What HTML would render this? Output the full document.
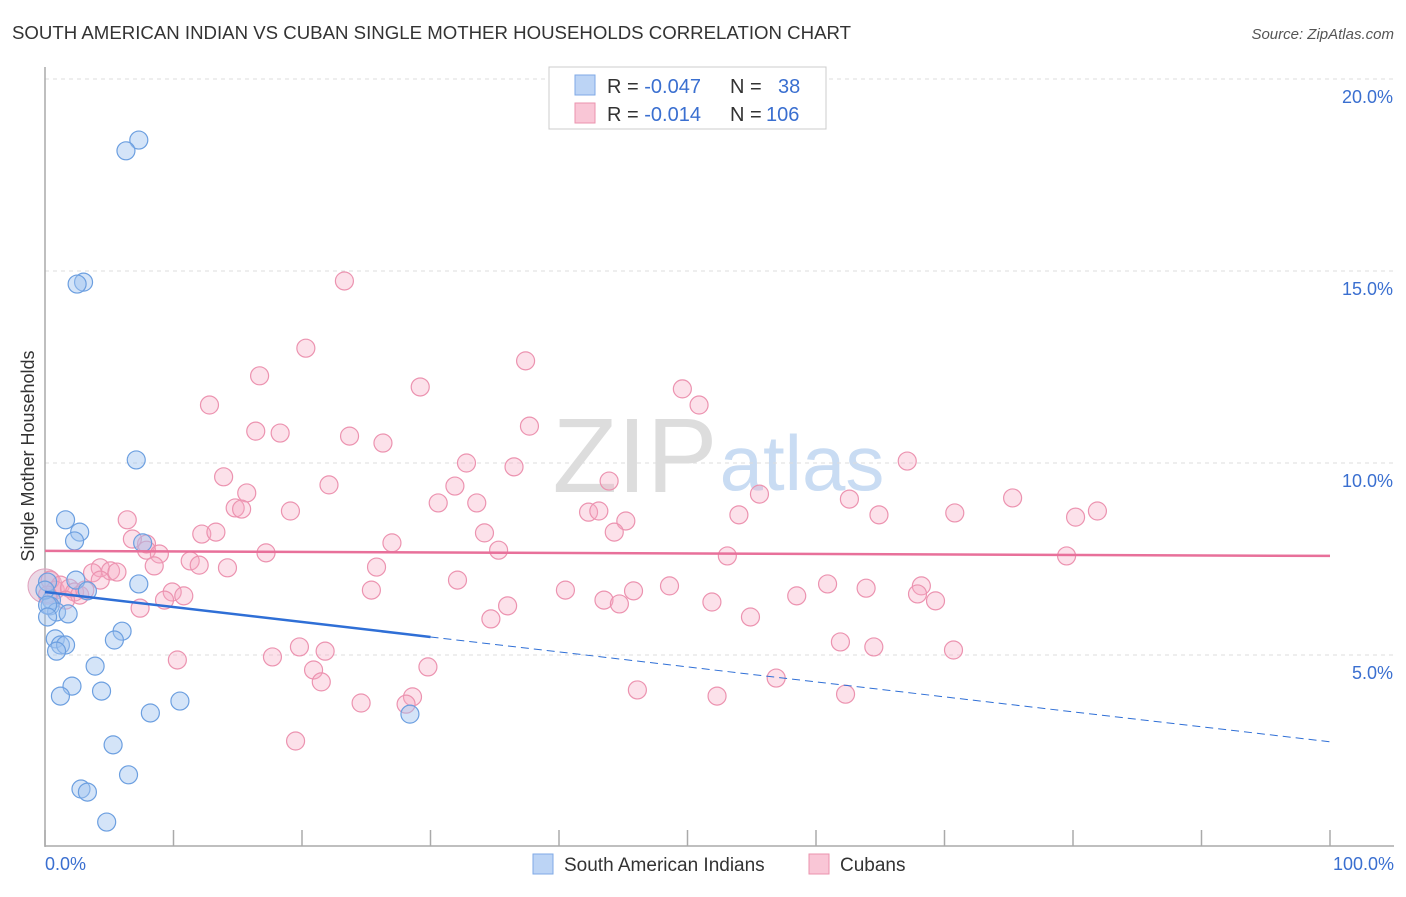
<!DOCTYPE html>
<html><head><meta charset="utf-8"><style>
body{margin:0;background:#fff;font-family:"Liberation Sans",sans-serif;}
svg text{font-family:"Liberation Sans",sans-serif;}
</style></head><body>
<svg id="chart" width="1406" height="892">
<text x="12" y="39" font-size="18" fill="#333" textLength="839" lengthAdjust="spacingAndGlyphs">SOUTH AMERICAN INDIAN VS CUBAN SINGLE MOTHER HOUSEHOLDS CORRELATION CHART</text>
<text x="1394" y="39" font-size="15" fill="#555" font-style="italic" text-anchor="end">Source: ZipAtlas.com</text>
<text x="0" y="0" transform="translate(34,456) rotate(-90)" font-size="18" fill="#333" text-anchor="middle">Single Mother Households</text>
<g><text x="635" y="492" font-size="106" fill="#ddd" font-family="Liberation Serif" text-anchor="middle">ZIP</text><text x="802" y="490" font-size="78" fill="#c9dcf3" text-anchor="middle">atlas</text></g>
<g id="grid"></g>
<g id="axes"></g>
<g id="pts"></g>
<g id="lines"></g>
<g>
<rect x="549" y="67" width="277" height="62" fill="#fff" stroke="#ccc"/>
<rect x="575" y="75" width="20" height="20" fill="#bcd4f5" stroke="#7fa9e6"/>
<rect x="575" y="103" width="20" height="20" fill="#f9c6d6" stroke="#eb93ae"/>
<text x="607" y="93" font-size="20" fill="#333">R = <tspan fill="#3a6fd0">-0.047</tspan><tspan x="730">N = </tspan><tspan x="778" fill="#3a6fd0">38</tspan></text>
<text x="607" y="121" font-size="20" fill="#333">R = <tspan fill="#3a6fd0"> -0.014</tspan><tspan x="730">N = </tspan><tspan x="766" fill="#3a6fd0">106</tspan></text>
</g>
<g>
<rect x="533" y="854" width="20" height="20" fill="#bcd4f5" stroke="#7fa9e6"/>
<text x="564" y="871" font-size="19" fill="#333">South American Indians</text>
<rect x="809" y="854" width="20" height="20" fill="#f9c6d6" stroke="#eb93ae"/>
<text x="840" y="871" font-size="19" fill="#333">Cubans</text>
</g>
</svg>
<script>
const yTicks=[5,10,15,20];
const yTickLabels=["5.0%","10.0%","15.0%","20.0%"];
const xTickLabels=["0.0%","100.0%"];
const blueX=[7.3,6.3,3.0,2.5,7.1,1.6,2.7,2.3,7.6,7.3,2.4,3.3,0.2,0.5,0.4,0.9,1.8,6.0,0.8,5.4,1.2,1.6,0.9,3.9,2.1,4.4,1.2,10.5,8.2,28.4,5.3,6.5,2.8,3.3,4.8,0,0.2,0.2];
const blueY=[18.41,18.13,14.71,14.66,10.08,8.52,8.20,7.97,7.92,6.85,6.95,6.67,6.90,6.43,6.28,6.12,6.07,5.62,5.42,5.39,5.26,5.26,5.10,4.71,4.19,4.06,3.93,3.80,3.49,3.46,2.66,1.88,1.51,1.43,0.65,6.69,6.30,5.99];
const pinkX=[23.3,20.3,37.4,16.7,29.2,49.6,50.9,12.8,16.4,18.3,23.7,26.3,37.7,32.8,36.5,67.1,13.9,43.9,22.1,15.7,31.9,55.6,30.6,33.6,62.6,75.3,14.8,15.3,19.1,42.3,43.1,54.0,64.9,70.8,81.9,80.2,45.2,6.4,34.2,44.3,12.2,13.3,7.9,27.0,35.3,6.8,7.9,17.2,8.9,53.1,79.5,11.3,8.5,25.8,4.3,5.1,12.0,14.2,5.6,3.7,4.3,32.1,48.6,60.9,68.2,25.4,40.5,45.8,63.9,67.9,9.9,10.8,9.3,43.5,44.7,51.9,58.5,69.3,36.0,7.4,34.7,54.9,19.8,21.8,61.9,64.5,70.7,10.3,17.7,20.9,29.8,21.5,56.9,46.1,52.3,62.3,24.6,28.6,28.1,19.5,0.4,0.8,1.2,1.9,2.3,2.7,1.6,0.2,3.1];
const pinkY=[14.74,12.99,12.66,12.27,11.98,11.93,11.51,11.51,10.83,10.78,10.70,10.52,10.96,10.0,9.90,10.05,9.64,9.53,9.43,9.22,9.40,9.19,8.96,8.96,9.06,9.09,8.83,8.80,8.75,8.72,8.75,8.65,8.65,8.70,8.75,8.59,8.49,8.52,8.18,8.20,8.15,8.20,7.89,7.92,7.73,8.02,7.73,7.66,7.63,7.58,7.58,7.45,7.32,7.29,7.27,7.19,7.34,7.27,7.16,7.14,6.95,6.95,6.80,6.85,6.80,6.69,6.69,6.67,6.74,6.59,6.64,6.54,6.43,6.43,6.33,6.38,6.54,6.41,6.28,6.22,5.94,5.99,5.21,5.10,5.34,5.21,5.13,4.87,4.95,4.61,4.69,4.30,4.40,4.09,3.93,3.98,3.75,3.91,3.72,2.76,6.95,6.69,6.82,6.74,6.64,6.56,6.43,6.56,6.69];
const pinkTrend=[7.71,7.58];
const blueTrend=[6.64,2.74];
const blueSolidEnd=30;
const NS="http://www.w3.org/2000/svg";
function X(v){return 45+v*12.85;}
function Y(v){return 847-v*38.4;}
function mk(t,a,p){const e=document.createElementNS(NS,t);for(const k in a)e.setAttribute(k,a[k]);p.appendChild(e);return e;}
const grid=document.getElementById('grid'),axes=document.getElementById('axes'),pts=document.getElementById('pts'),lines=document.getElementById('lines');
yTicks.forEach((t,i)=>{
 const g=mk('line',{x1:45,x2:1394,y1:Y(t),y2:Y(t),stroke:'#ddd','stroke-dasharray':'4,4'},grid);
 
 
 const l=mk('text',{x:1393,y:Y(t)+24,'font-size':18,fill:'#3a6fd0','text-anchor':'end'},axes);
 l.textContent=yTickLabels[i];
 
 
});
const ya=mk('line',{x1:45,x2:45,y1:67,y2:847,stroke:'#aaa','stroke-width':1.5},axes);


const xa=mk('line',{x1:45,x2:1394,y1:846,y2:846,stroke:'#aaa','stroke-width':1.5},axes);


for(let i=0;i<=10;i++){
 const t=mk('line',{x1:X(i*10),x2:X(i*10),y1:830,y2:846,stroke:'#aaa','stroke-width':1.5},axes);
 
 
}
[[0,'start',45],[100,'end',1394]].forEach((d,i)=>{
 const l=mk('text',{x:d[2],y:870,'font-size':18,fill:'#3a6fd0','text-anchor':d[1]},axes);
 l.textContent=xTickLabels[i];
 
 
});
const big=mk('circle',{cx:X(0),cy:Y(6.8),r:17,fill:'rgba(210,170,200,0.45)',stroke:'#e0a0bc'},pts);


pinkX.forEach((v,i)=>{
 const c=mk('circle',{cx:X(v),cy:Y(pinkY[i]),r:9,fill:'rgba(246,170,195,0.35)',stroke:'#ec93b0','stroke-width':1.2},pts);
 
 
});
blueX.forEach((v,i)=>{
 const c=mk('circle',{cx:X(v),cy:Y(blueY[i]),r:9,fill:'rgba(160,195,240,0.45)',stroke:'#6c9fe0','stroke-width':1.2},pts);
 
 
});
const pl=mk('line',{x1:X(0),x2:X(100),y1:Y(pinkTrend[0]),y2:Y(pinkTrend[1]),stroke:'#e8709a','stroke-width':2.5},lines);


const bm=blueTrend[0]+(blueTrend[1]-blueTrend[0])*blueSolidEnd/100;
const bl=mk('line',{x1:X(0),x2:X(blueSolidEnd),y1:Y(blueTrend[0]),y2:Y(bm),stroke:'#2f6fd6','stroke-width':2.5},lines);


const bd=mk('line',{x1:X(blueSolidEnd),x2:X(100),y1:Y(bm),y2:Y(blueTrend[1]),stroke:'#2f6fd6','stroke-width':1,'stroke-dasharray':'8,5'},lines);


</script>
</body></html>
